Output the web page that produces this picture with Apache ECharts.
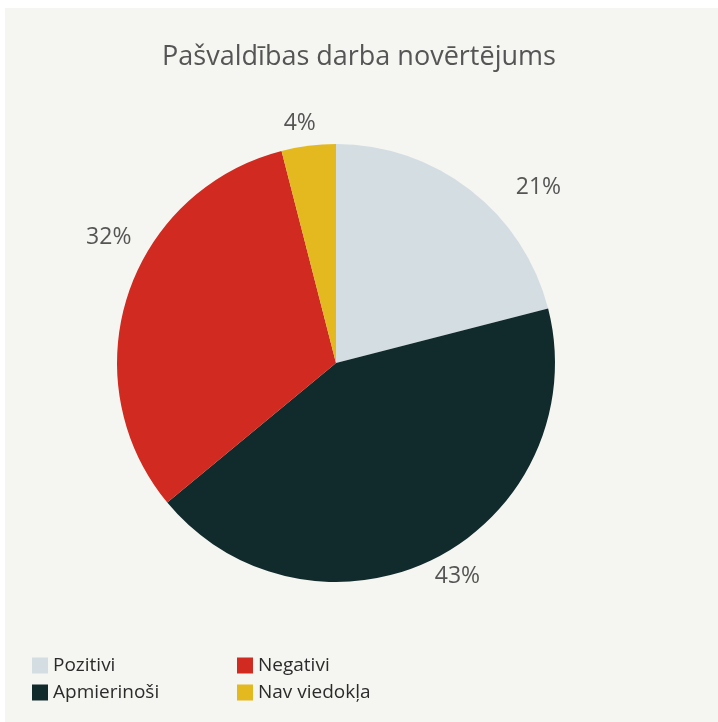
<!DOCTYPE html>
<html>
<head>
<meta charset="utf-8">
<script src="https://cdn.jsdelivr.net/npm/echarts@6/dist/echarts.min.js"></script>
<style>
  html, body { margin: 0; padding: 0; background: #ffffff; }
  #chart { width: 718px; height: 722px; }
</style>
</head>
<body>
<div id="chart"></div>
<script>
// Survey categories and their shares (percent)
const categories = ['Pozitivi', 'Apmierinoši', 'Negativi', 'Nav viedokļa'];
const shares = [21, 43, 32, 4];
const colors = ['#d3dde2', '#112b2d', '#d12a20', '#e3b91f'];
const titleText = 'Pašvaldības darba novērtējums';

const font = '"Open Sans", sans-serif';

// small nudges for the outside percentage labels
const labelNudge = [[32, 9], [-12, 6], [22, -54], [14, -8]];

const chart = echarts.init(document.getElementById('chart'), null, { renderer: 'canvas' });

chart.setOption({
  backgroundColor: '#ffffff',
  animation: false,
  graphic: [{
    type: 'rect',
    left: 5, top: 8,
    shape: { width: 713, height: 714 },
    style: { fill: '#f5f5f1' },
    z: -10
  }],
  title: {
    text: titleText,
    left: 'center',
    top: 39,
    textStyle: { fontFamily: font, fontSize: 27, fontWeight: 'normal', color: '#555555' }
  },
  color: colors,
  legend: [
    {
      data: categories.slice(0, 2),
      orient: 'vertical',
      left: 27, top: 651,
      itemWidth: 16, itemHeight: 16, itemGap: 8,
      icon: 'rect',
      textStyle: { fontFamily: font, fontSize: 19, color: '#2b2b2b', padding: [0, 0, 0, 0] }
    },
    {
      data: categories.slice(2, 4),
      orient: 'vertical',
      left: 232, top: 651,
      itemWidth: 16, itemHeight: 16, itemGap: 8,
      icon: 'rect',
      textStyle: { fontFamily: font, fontSize: 19, color: '#2b2b2b', padding: [0, 0, 0, 0] }
    }
  ],
  series: [{
    type: 'pie',
    center: [336, 363],
    radius: [0, 219],
    startAngle: 90,
    clockwise: true,
    silent: true,
    label: {
      show: true,
      position: 'outside',
      formatter: '{d}%',
      fontFamily: font,
      fontSize: 23,
      color: '#555555'
    },
    labelLine: { show: false, length: 14, length2: 0 },
    labelLayout: function (params) {
      const n = labelNudge[params.dataIndex] || [0, 0];
      return { dx: n[0], dy: n[1] };
    },
    data: categories.map((name, i) => ({ name, value: shares[i] }))
  }]
});
</script>
</body>
</html>
